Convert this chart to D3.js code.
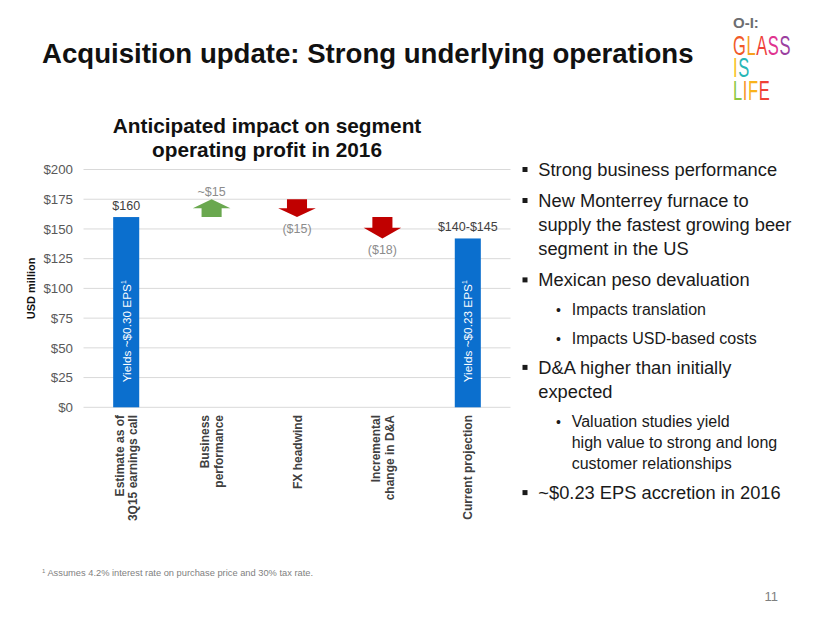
<!DOCTYPE html>
<html><head><meta charset="utf-8">
<script src="https://cdn.jsdelivr.net/npm/d3@7"></script>
<style>
body{margin:0;background:#fff}
svg{display:block}
text{font-family:"Liberation Sans",Arial,Helvetica,sans-serif}
</style>
</head><body>
<svg id="c" width="830" height="623"></svg>
<script>
// ---- data ----
const categories = ["Estimate as of\n3Q15 earnings call", "Business\nperformance", "FX headwind", "Incremental\nchange in D&A", "Current projection"];
const values = [160, 15, -15, -18, 142];
const kinds = ["total", "delta", "delta", "delta", "total"];
const valueLabels = ["$160", "~$15", "($15)", "($18)", "$140-$145"];
const barNotes = ["Yields ~$0.30 EPS", null, null, null, "Yields ~$0.23 EPS"];
const yTicks = [0, 25, 50, 75, 100, 125, 150, 175, 200];
const bullets = [
  {lvl:1, lines:["Strong business performance"]},
  {lvl:1, lines:["New Monterrey furnace to","supply the fastest growing beer","segment in the US"]},
  {lvl:1, lines:["Mexican peso devaluation"]},
  {lvl:2, lines:["Impacts translation"]},
  {lvl:2, lines:["Impacts USD-based costs"]},
  {lvl:1, lines:["D&A higher than initially","expected"]},
  {lvl:2, lines:["Valuation studies yield","high value to strong and long","customer relationships"]},
  {lvl:1, lines:["~$0.23 EPS accretion in 2016"]}
];

const svg = d3.select("#c");

// ---- page title ----
svg.append("text").attr("x", 42).attr("y", 63)
  .attr("font-size", 27.6).attr("font-weight", "bold").attr("fill", "#111")
  .text("Acquisition update: Strong underlying operations");

// ---- logo ----
const logo = svg.append("g").attr("font-family", "Lato, 'Open Sans', sans-serif");
logo.append("text").attr("x", 733).attr("y", 28).attr("font-size", 15).attr("font-weight", "bold")
  .attr("fill", "#6d6e71").text("O-I:");
const logoLines = [
  {y: 55, letters: [["G","#f15a29"],["L","#f7a21b"],["A","#ef4136"],["S","#e0338f"],["S","#9b3fa0"]]},
  {y: 77, letters: [["I","#f9c21b"],["S","#26b6b6"]]},
  {y: 100, letters: [["L","#8cc63f"],["I","#f7941d"],["F","#f9b31b"],["E","#ef4136"]]}
];
const logoFs = 16.5, logoSy = 1.7;
logoLines.forEach(l => {
  const g = logo.append("g").attr("transform", `translate(733,${l.y}) scale(1,${logoSy})`);
  let cx = 0;
  l.letters.forEach(([ch, col]) => {
    const t = g.append("text").attr("x", cx).attr("y", 0).attr("font-size", logoFs).attr("fill", col).text(ch);
    cx += t.node().getComputedTextLength() + 0.6;
  });
});

// ---- chart ----
const y = d3.scaleLinear().domain([0, 200]).range([407.3, 169.5]);
const x = d3.scaleBand().domain(categories).range([83.5, 510.5]).paddingInner(0.695).paddingOuter(0.3475);
const step = x.step();

svg.append("text").attr("text-anchor", "middle").attr("font-size", 20.8).attr("font-weight", "bold").attr("fill", "#111")
  .selectAll("tspan").data(["Anticipated impact on segment", "operating profit in 2016"]).join("tspan")
  .attr("x", 267).attr("y", (d, i) => 133 + i * 24).text(d => d);

// gridlines
svg.append("g").selectAll("line").data(yTicks).join("line")
  .attr("x1", 83.5).attr("x2", 510.5).attr("y1", d => y(d)).attr("y2", d => y(d))
  .attr("stroke", "#d9d9d9").attr("stroke-width", 1);

// y axis labels
const yAxis = svg.append("g").attr("transform", "translate(83.5,0)")
  .call(d3.axisLeft(y).tickValues(yTicks).tickSize(0).tickPadding(10.5).tickFormat(d => "$" + d));
yAxis.select(".domain").remove();
yAxis.selectAll("text").attr("font-size", 13.3).attr("fill", "#595959").attr("font-family", "Liberation Sans, Arial, sans-serif");

svg.append("text").attr("transform", `translate(35,${(y(0)+y(200))/2}) rotate(-90)`)
  .attr("text-anchor", "middle").attr("font-size", 11).attr("font-weight", "bold").attr("fill", "#111")
  .text("USD million");

// compute waterfall
let cum = 0;
const items = categories.map((c, i) => {
  let start, end;
  if (kinds[i] === "total") { start = 0; end = values[i]; cum = values[i]; }
  else { start = cum; end = cum + values[i]; cum = end; }
  return {c, i, start, end, kind: kinds[i], v: values[i]};
});

// bars
const totals = items.filter(d => d.kind === "total");
svg.append("g").selectAll("rect").data(totals).join("rect")
  .attr("x", d => x(d.c)).attr("width", x.bandwidth())
  .attr("y", d => y(d.end)).attr("height", d => y(d.start) - y(d.end))
  .attr("fill", "#0b6fce");

// arrows
const deltas = items.filter(d => d.kind === "delta");
const shaftW = step * 0.235, headW = step * 0.44;
svg.append("g").selectAll("path").data(deltas).join("path")
  .attr("d", d => {
    const cx = x(d.c) + x.bandwidth() / 2;
    const y0 = y(d.start), y1 = y(d.end);
    const len = y1 - y0;
    const hb = y0 + len * 0.5;
    return `M${cx - shaftW/2},${y0} L${cx + shaftW/2},${y0} L${cx + shaftW/2},${hb} L${cx + headW/2},${hb} L${cx},${y1} L${cx - headW/2},${hb} L${cx - shaftW/2},${hb} Z`;
  })
  .attr("fill", d => d.v > 0 ? "#6aa84f" : "#c00000");

// value labels
svg.append("g").selectAll("text").data(items).join("text")
  .attr("x", d => x(d.c) + x.bandwidth() / 2)
  .attr("y", d => d.kind === "total" ? y(d.end) - 7 : (d.v > 0 ? y(d.end) - 3 : y(d.end) + 15.5))
  .attr("text-anchor", "middle").attr("font-size", 12.5)
  .attr("fill", d => d.kind === "total" ? "#404040" : "#8c8c8c")
  .text(d => valueLabels[d.i]);

// notes inside bars
totals.forEach(d => {
  const note = barNotes[d.i];
  if (!note) return;
  const cx = x(d.c) + x.bandwidth() / 2;
  const t = svg.append("text").attr("transform", `translate(${cx + 4.5},${y(21)}) rotate(-90)`)
    .attr("font-size", 11.8).attr("fill", "#fff");
  t.append("tspan").text(note);
  t.append("tspan").attr("font-size", 7).attr("dy", -5).text("1");
});

// category labels
svg.append("g").selectAll("text").data(categories).join("text")
  .attr("transform", d => `translate(${x(d) + x.bandwidth()/2},415) rotate(-90)`)
  .attr("text-anchor", "end").attr("font-size", 12).attr("font-weight", "bold").attr("fill", "#404040")
  .each(function(d) {
    const lines = d.split("\n");
    d3.select(this).selectAll("tspan").data(lines).join("tspan")
      .attr("x", 0).attr("y", (l, i) => (i - (lines.length - 1) / 2) * 13.5 + 4.5).text(l => l);
  });

// ---- bullets ----
const bg = svg.append("g").attr("fill", "#1a1a1a");
let by = 176;
bullets.forEach((b, bi) => {
  const main = b.lvl === 1;
  if (bi > 0) by += main ? (bullets[bi-1].lvl === 1 ? 31 : 30) : (bullets[bi-1].lvl === 1 ? 29 : 28.5);
  if (main) bg.append("rect").attr("x", 522.5).attr("y", by - 9).attr("width", 5).attr("height", 5);
  else bg.append("text").attr("x", 556).attr("y", by).attr("font-size", 14).text("•");
  b.lines.forEach((ln, li) => {
    if (li > 0) by += main ? 24.2 : 21;
    bg.append("text").attr("x", main ? 538.3 : 571.7).attr("y", by)
      .attr("font-size", main ? 18.3 : 16).text(ln);
  });
});

// ---- footnote & page number ----
const fn = svg.append("text").attr("x", 42).attr("y", 576).attr("font-size", 9.3).attr("fill", "#7f7f7f");
fn.append("tspan").attr("font-size", 6).attr("dy", -3).text("1");
fn.append("tspan").attr("dy", 3).text(" Assumes 4.2% interest rate on purchase price and 30% tax rate.");
svg.append("text").attr("x", 778).attr("y", 601).attr("text-anchor", "end").attr("font-size", 13).attr("fill", "#7f7f7f").text("11");
</script>
</body></html>
